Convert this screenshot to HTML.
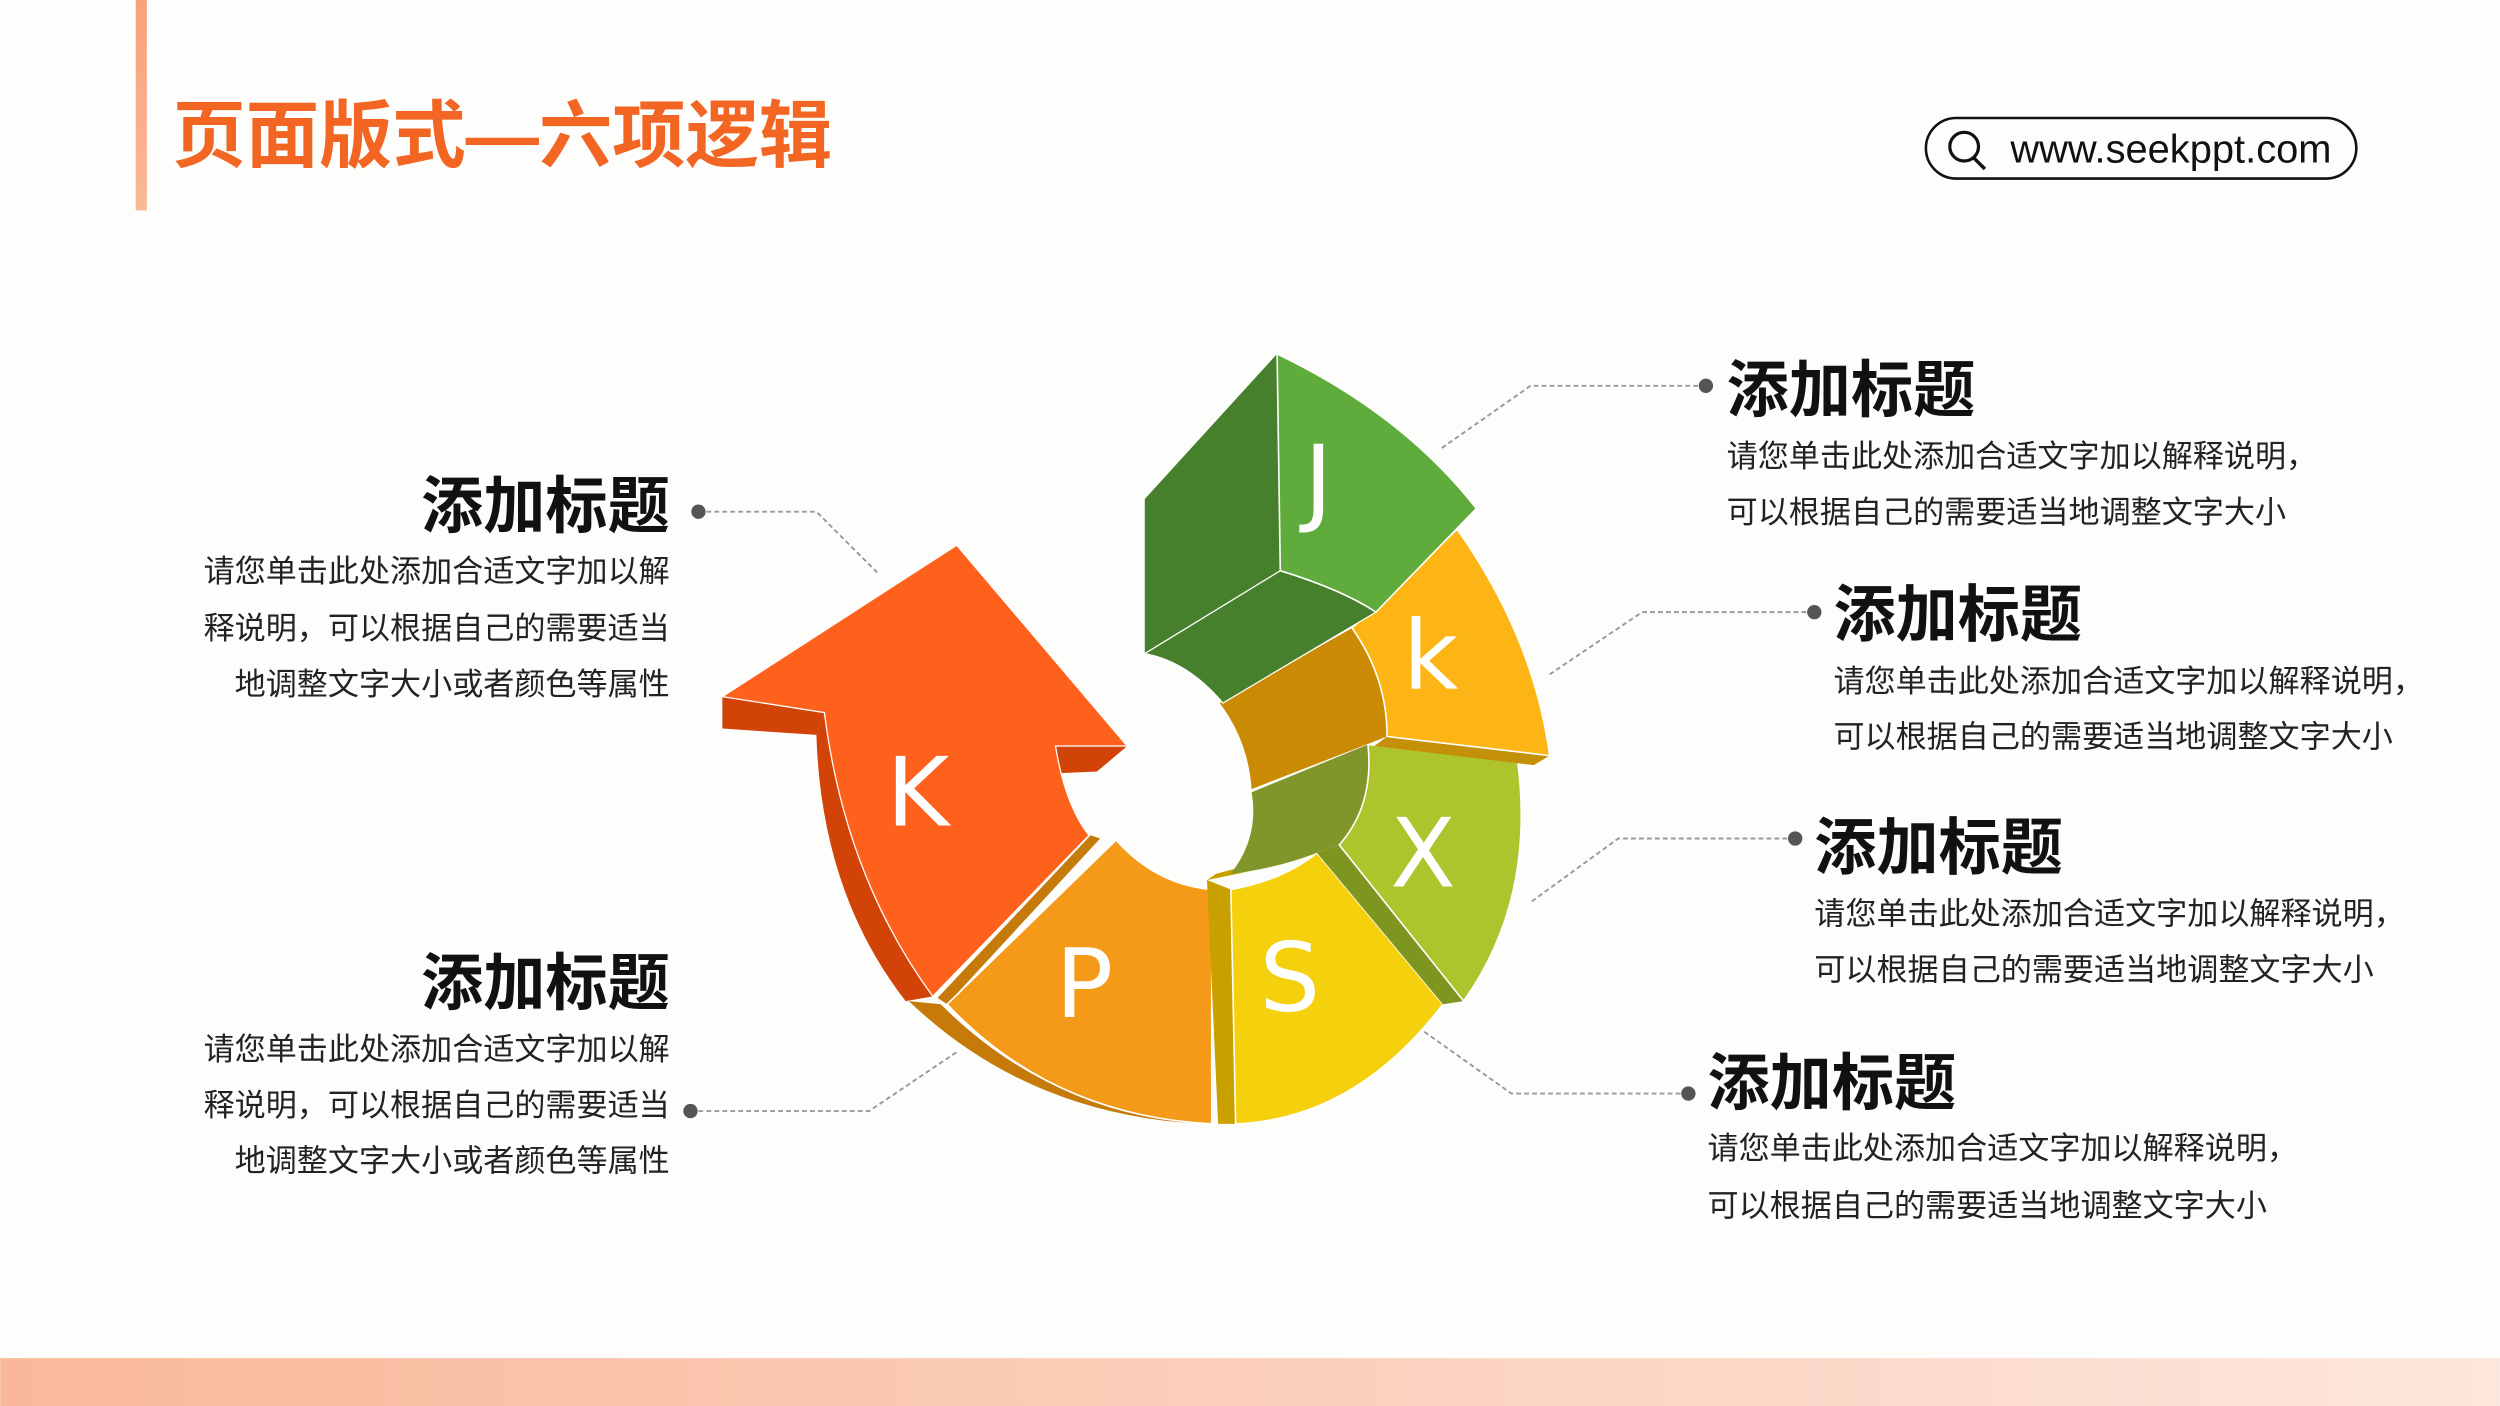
<!DOCTYPE html>
<html><head><meta charset="utf-8"><style>
html,body{margin:0;padding:0;background:#fdfdfc;}
svg{display:block;}
text{font-family:"Liberation Sans","Noto Sans CJK SC",sans-serif;}
.h{font-size:39px;font-weight:bold;fill:#111;}
.b{font-size:19.5px;fill:#222;}
.c{fill:none;stroke:#999;stroke-width:1.2;stroke-dasharray:3 2;}
.lt{font-size:60px;fill:#fff;font-family:"DejaVu Sans","Liberation Sans",sans-serif;}
</style></head><body>
<svg width="2500" height="1406" viewBox="0 0 1568 882" xmlns="http://www.w3.org/2000/svg">
<defs>
<linearGradient id="bg" x1="0" x2="1"><stop offset="0" stop-color="#f9b899"/><stop offset="1" stop-color="#fde6dc"/></linearGradient>
<linearGradient id="lb" x1="0" y1="0" x2="0" y2="1"><stop offset="0" stop-color="#f7a27c"/><stop offset="1" stop-color="#fbb896"/></linearGradient>
</defs>
<rect width="1568" height="882" fill="#fdfdfc"/>
<rect x="85" y="0" width="7" height="132" fill="url(#lb)"/>
<text x="108" y="101" font-size="46" font-weight="bold" fill="#f26522">页面版式—六项逻辑</text>
<rect x="1208" y="74" width="270" height="38" rx="19" fill="none" stroke="#111" stroke-width="1.6"/>
<circle cx="1232" cy="92" r="9" fill="none" stroke="#111" stroke-width="2"/>
<line x1="1238" y1="99" x2="1245" y2="106" stroke="#111" stroke-width="2.2"/>
<text x="1261" y="102" font-size="25" fill="#111">www.seekppt.com</text>
<rect x="0" y="852" width="1568" height="30" fill="url(#bg)"/>

<!-- K arrow -->
<path d="M453,437 L453,457 L512,461 L517,447 Z" fill="#d24307"/>
<path d="M512,461 Q515,560 568,628 L585,625 Q530,550 517,447 Z" fill="#d24307"/>
<path d="M662,468 L665,485 L688,484 L707,468 Z" fill="#d24307"/>
<path d="M600,342 L707,468 L662,468 Q668,505 683,524 L585,625 Q530,550 517,447 L453,437 Z" fill="#fe611c" stroke="#fff" stroke-width="0.8"/>
<!-- P -->
<path d="M570,628 L590,630 Q660,700 760,705 L740,704 Q640,695 570,628 Z" fill="#c57a0a"/>
<path d="M588,626 L684,524 L690,526 L594,630 Z" fill="#c57a0a"/>
<path d="M700,527 Q725,555 760,558 L760,705 Q660,700 594,630 Z" fill="#f59a18" stroke="#fff" stroke-width="1"/>
<!-- S -->
<path d="M757,552 L772,558 L775,705 L764,705 Z" fill="#c8a000"/>
<path d="M757,552 Q795,545 826,535 L820,533 Q790,541 763,548 Z" fill="#c8a000"/>
<path d="M772,558 Q805,552 826,535 L905,630 Q850,702 775,705 Z" fill="#f5d00c" stroke="#fff" stroke-width="1"/>
<!-- X -->
<path d="M826,535 L840,530 L918,628 L905,630 Z" fill="#7e9620"/>
<path d="M785,497 L858,467 Q862,510 840,530 L826,535 Q800,545 772,548 Q790,525 785,497 Z" fill="#81962a"/>
<path d="M858,467 L952,478 Q963,565 918,628 L840,530 Q862,505 858,467 Z" fill="#aec42c" stroke="#fff" stroke-width="1"/>
<!-- k -->
<path d="M765,441 L848,394 Q870,425 870,462 L785,495 Q783,465 765,441 Z" fill="#cb8a03"/>
<path d="M862,468 L870,462 L972,474 L962,480 Z" fill="#c49008"/>
<path d="M914,332 Q962,400 972,474 L870,462 Q870,425 848,394 Z" fill="#fdb515" stroke="#fff" stroke-width="1"/>
<!-- J -->
<path d="M801,222 L803,358 L718,410 L718,313 Z" fill="#47802c"/>
<path d="M803,358 Q842,370 863,384 L767,441 Q745,415 718,410 Z" fill="#47802c" stroke="#fff" stroke-width="0.8"/>
<path d="M801,222 Q880,260 926,319 L863,384 Q842,370 803,358 Z" fill="#5fab3c" stroke="#fff" stroke-width="1"/>

<text class="lt" x="556" y="518">K</text>
<text class="lt" x="662" y="638">P</text>
<text class="lt" x="790" y="634">S</text>
<text class="lt" x="872" y="556">X</text>
<text class="lt" x="880" y="432">k</text>
<text class="lt" x="818" y="322">J</text>

<!-- connectors -->
<path class="c" d="M1070,242 L960,242 L903,282"/><circle cx="1070" cy="242" r="4.5" fill="#555"/>
<path class="c" d="M1138,384 L1030,384 L972,423"/><circle cx="1138" cy="384" r="4.5" fill="#555"/>
<path class="c" d="M1126,526 L1015,526 L960,566"/><circle cx="1126" cy="526" r="4.5" fill="#555"/>
<path class="c" d="M1059,686 L948,686 L893,647"/><circle cx="1059" cy="686" r="4.5" fill="#555"/>
<path class="c" d="M438,321 L512,321 L551,360"/><circle cx="438" cy="321" r="4.5" fill="#555"/>
<path class="c" d="M433,697 L545,697 L600,660"/><circle cx="433" cy="697" r="4.5" fill="#555"/>

<!-- right text -->
<text class="h" x="1083" y="258">添加标题</text>
<text class="b" x="1083" y="293">请您单击此处添加合适文字加以解释说明，</text>
<text class="b" x="1083" y="328">可以根据自己的需要适当地调整文字大小</text>
<text class="h" x="1150" y="399">添加标题</text>
<text class="b" x="1150" y="434">请您单击此处添加合适文字加以解释说明，</text>
<text class="b" x="1150" y="469">可以根据自己的需要适当地调整文字大小</text>
<text class="h" x="1138" y="545">添加标题</text>
<text class="b" x="1138" y="580">请您单击此处添加合适文字加以解释说明，</text>
<text class="b" x="1138" y="615">可以根据自己的需要适当地调整文字大小</text>
<text class="h" x="1071" y="693">添加标题</text>
<text class="b" x="1071" y="727">请您单击此处添加合适文字加以解释说明，</text>
<text class="b" x="1071" y="763">可以根据自己的需要适当地调整文字大小</text>
<!-- left text -->
<g text-anchor="end">
<text class="h" x="420" y="331">添加标题</text>
<text class="b" x="420" y="365">请您单击此处添加合适文字加以解</text>
<text class="b" x="420" y="401">释说明，可以根据自己的需要适当</text>
<text class="b" x="420" y="436">地调整文字大小或者颜色等属性</text>
<text class="h" x="420" y="630">添加标题</text>
<text class="b" x="420" y="665">请您单击此处添加合适文字加以解</text>
<text class="b" x="420" y="700">释说明，可以根据自己的需要适当</text>
<text class="b" x="420" y="735">地调整文字大小或者颜色等属性</text>
</g>
</svg>
</body></html>
